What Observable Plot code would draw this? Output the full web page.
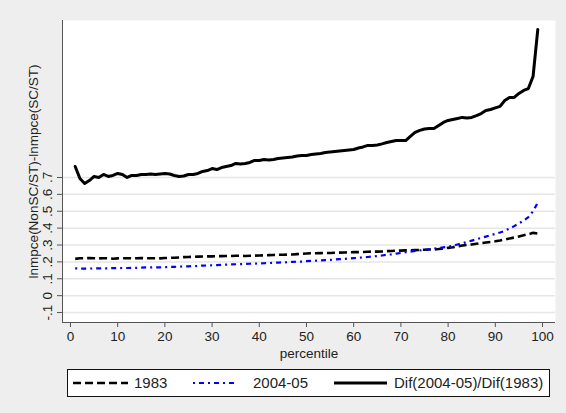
<!DOCTYPE html>
<html>
<head>
<meta charset="utf-8">
<script src="https://cdn.jsdelivr.net/npm/d3@7"></script>
<script src="https://cdn.jsdelivr.net/npm/@observablehq/plot@0.6"></script>
<style>
  html, body { margin: 0; padding: 0; background: #eeeeee; }
  body { width: 566px; height: 413px; overflow: hidden; font-family: "Liberation Sans", Arial, sans-serif; color: #222; }
  #chart svg { display: block; }
  #legend { position: relative; margin-left: 67px; margin-top: 7px; width: 481px; height: 26px; background: #fff; border: 1px solid #111; font-size: 15px; }
  #legend .sw { position: absolute; top: 8px; }
  #legend .tx { position: absolute; top: 4px; line-height: 17px; white-space: nowrap; }
</style>
</head>
<body>
<div id="chart"></div>
<div id="legend"></div>
<script>
const percentile = d3.range(1, 100);

const v1983 = [
  .218,.222,.222,.223,.222,.221,.222,.222,.219,.221,
  .222,.222,.221,.222,.223,.222,.222,.222,.221,.223,
  .224,.225,.226,.228,.229,.230,.231,.232,.233,.233,
  .234,.234,.235,.235,.236,.236,.235,.236,.237,.238,
  .239,.240,.241,.242,.242,.243,.244,.246,.248,.250,
  .251,.251,.252,.253,.253,.254,.255,.256,.257,.258,
  .258,.259,.260,.261,.261,.262,.264,.265,.266,.267,
  .268,.269,.270,.271,.272,.273,.274,.276,.279,.283,
  .287,.292,.297,.300,.303,.307,.311,.315,.318,.322,
  .327,.333,.339,.344,.351,.358,.364,.372,.368
];

const v2004 = [
  .162,.160,.160,.161,.161,.162,.162,.162,.163,.163,
  .164,.164,.165,.165,.166,.167,.167,.168,.168,.169,
  .170,.171,.172,.173,.174,.175,.176,.178,.179,.180,
  .181,.182,.184,.185,.186,.187,.188,.189,.190,.191,
  .192,.193,.195,.196,.197,.198,.200,.201,.202,.204,
  .206,.207,.209,.211,.212,.214,.216,.218,.220,.222,
  .224,.227,.229,.232,.235,.238,.242,.245,.249,.253,
  .257,.261,.265,.268,.271,.275,.279,.282,.286,.290,
  .296,.303,.310,.318,.326,.334,.342,.350,.358,.366,
  .374,.384,.398,.412,.428,.445,.465,.500,.552
];

const vRatio = [
  .765,.694,.664,.682,.706,.700,.718,.706,.712,.724,
  .718,.700,.712,.712,.718,.718,.721,.718,.721,.724,
  .721,.712,.706,.709,.718,.718,.724,.736,.741,.753,
  .747,.759,.765,.771,.783,.780,.783,.789,.801,.801,
  .807,.804,.807,.813,.816,.819,.821,.827,.830,.830,
  .836,.839,.842,.848,.851,.854,.857,.860,.863,.866,
  .875,.881,.890,.890,.893,.899,.907,.913,.919,.919,
  .919,.943,.967,.979,.987,.990,.990,1.008,1.026,1.038,
  1.044,1.050,1.056,1.053,1.056,1.067,1.079,1.097,1.103,1.112,
  1.121,1.156,1.174,1.174,1.198,1.216,1.227,1.299,1.577
];

const xTicks = [0,10,20,30,40,50,60,70,80,90,100];
const yTicks = [-0.1,0,0.1,0.2,0.3,0.4,0.5,0.6,0.7];
const yTickLabels = ["-.1","0",".1",".2",".3",".4",".5",".6",".7"];
const seriesNames = ["1983","2004-05","Dif(2004-05)/Dif(1983)"];
const yTitle = "lnmpce(NonSC/ST)-lnmpce(SC/ST)";
const xTitle = "percentile";

const rows = (vals) => percentile.map((p, i) => ({p, v: vals[i]}));

const xDomain = [-1.69, 102.75];
const yDomain = [-0.159, 1.630];

const plot = Plot.plot({
  width: 566,
  height: 362,
  marginLeft: 62,
  marginRight: 11,
  marginTop: 20,
  marginBottom: 40,
  style: {background: "transparent", fontFamily: "'Liberation Sans', Arial, sans-serif", fontSize: "13.5px", color: "#222"},
  x: {domain: xDomain},
  y: {domain: yDomain},
  marks: [
    Plot.frame({fill: "white", stroke: "none"}),
    Plot.ruleY(yTicks, {stroke: "#e6e6e6", strokeWidth: 1.5}),
    Plot.ruleX([xDomain[0]], {stroke: "#555", strokeWidth: 1}),
    Plot.ruleY([yDomain[0]], {stroke: "#555", strokeWidth: 1}),
    Plot.axisX({ticks: xTicks, tickSize: 5, tickPadding: 4, label: null, stroke: "#555", fontSize: 13.5}),
    Plot.axisY({ticks: yTicks, tickSize: 5, tickFormat: () => "", label: null, stroke: "#555"}),
    Plot.text(yTicks, {x: xDomain[0], y: d => d, text: (d, i) => yTickLabels[i], rotate: -90, dx: -11, textAnchor: "middle", lineAnchor: "bottom", fontSize: 13.5, fill: "#222"}),
    Plot.text([yTitle], {frameAnchor: "left", rotate: -90, dx: -25, textAnchor: "middle", lineAnchor: "bottom", fontSize: 13.5, fill: "#222"}),
    Plot.text([xTitle], {frameAnchor: "bottom", dy: 35, lineAnchor: "bottom", fontSize: 13.5, fill: "#222"}),
    Plot.line(rows(v1983), {x: "p", y: "v", stroke: "#000", strokeWidth: 2.6, strokeDasharray: "8,4", strokeLinecap: "butt"}),
    Plot.line(rows(v2004), {x: "p", y: "v", stroke: "#0000ff", strokeWidth: 2.2, strokeDasharray: "2,4,5,4", strokeLinecap: "butt"}),
    Plot.line(rows(vRatio), {x: "p", y: "v", stroke: "#000", strokeWidth: 3})
  ]
});
document.getElementById("chart").appendChild(plot);

// legend
const legend = document.getElementById("legend");
const items = [
  {swx: 5, sww: 55, dash: "8,4", color: "#000", w: 2.6, tx: 66},
  {swx: 125, sww: 45, dash: "2,4,5,4", color: "#0000ff", w: 2.2, tx: 185},
  {swx: 266, sww: 53, dash: null, color: "#000", w: 3, tx: 326}
];
items.forEach((it, i) => {
  const ns = "http://www.w3.org/2000/svg";
  const s = document.createElementNS(ns, "svg");
  s.setAttribute("class", "sw");
  s.setAttribute("width", it.sww);
  s.setAttribute("height", 10);
  s.style.left = it.swx + "px";
  const l = document.createElementNS(ns, "line");
  l.setAttribute("x1", 0); l.setAttribute("x2", it.sww);
  l.setAttribute("y1", 5); l.setAttribute("y2", 5);
  l.setAttribute("stroke", it.color);
  l.setAttribute("stroke-width", it.w);
  if (it.dash) l.setAttribute("stroke-dasharray", it.dash);
  s.appendChild(l);
  legend.appendChild(s);
  const t = document.createElement("div");
  t.className = "tx";
  t.style.left = it.tx + "px";
  t.textContent = seriesNames[i];
  legend.appendChild(t);
});
</script>
</body>
</html>
